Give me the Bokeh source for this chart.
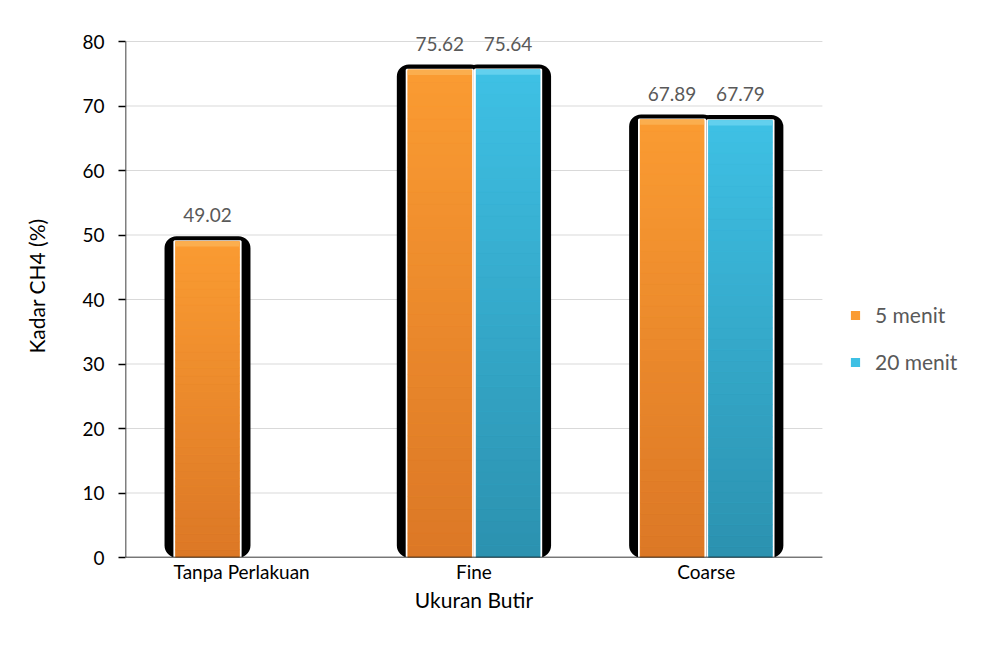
from bokeh.plotting import figure
from bokeh.models import (ColumnDataSource, Legend, LegendItem, FixedTicker, Range1d,
                          LinearAxis)
from bokeh.core.properties import value
from bokeh.embed import file_html
from bokeh.resources import INLINE

# ---- data ----
categories = ["Tanpa Perlakuan", "Fine", "Coarse"]
series_names = ["5 menit", "20 menit"]
vals_5 = [49.02, 75.62, 67.89]
vals_20 = [None, 75.64, 67.79]
y_ticks = [0, 10, 20, 30, 40, 50, 60, 70, 80]
x_title = "Ukuran Butir"
y_title = "Kadar CH4 (%)"

# ---- style ----
FONT = "Lato"
orange_top, orange_bot = (250, 155, 50), (220, 120, 38)
cyan_top, cyan_bot = (62, 192, 228), (44, 146, 176)
orange_cap, cyan_cap = "#FBAE4E", "#62D0EE"
BAR_W = 0.285
OFF = 0.147
N = 40
W, H = 984, 666
LEFT, BOTTOM = 125, 109
AXIS_TOP_PX = 41          # where the value 80 sits
TOP = 14                  # frame top (room for value labels)
CAT_PX = 232.3
ncat = len(categories)
x_end = (W - LEFT) / CAT_PX
y_max_tick = y_ticks[-1]
px_per_unit = (H - BOTTOM - AXIS_TOP_PX) / y_max_tick
y_end = y_max_tick + (AXIS_TOP_PX - TOP) / px_per_unit

p = figure(x_range=Range1d(0, x_end), y_range=Range1d(0, y_end),
           width=W, height=H, output_backend="svg", toolbar_location=None,
           min_border_left=LEFT, min_border_right=0, min_border_top=TOP,
           min_border_bottom=BOTTOM)
p.outline_line_color = None
p.background_fill_color = "white"
p.border_fill_color = "white"
p.xgrid.grid_line_color = None
p.ygrid.grid_line_color = None

def hexc(c):
    return "#%02x%02x%02x" % tuple(int(round(x)) for x in c)

# gridlines limited to the category area
p.segment(x0=[0] * len(y_ticks), x1=[ncat] * len(y_ticks), y0=y_ticks, y1=y_ticks,
          line_color="#d9d9d9", line_width=1)

specs = [
    (vals_5, -OFF, orange_top, orange_bot, orange_cap, "5 menit"),
    (vals_20, OFF, cyan_top, cyan_bot, cyan_cap, "20 menit"),
]

def series_xy(vals, off):
    xs = [i + 0.5 + off for i, v in enumerate(vals) if v is not None]
    vs = [v for v in vals if v is not None]
    return xs, vs

for vals, off, ctop, cbot, cap, name in specs:
    xs, vs = series_xy(vals, off)
    src_s = ColumnDataSource(dict(x=xs, top=[v + 0.8 for v in vs]))
    p.vbar(x="x", top="top", bottom=0, width=BAR_W + 0.085,
           source=src_s, fill_color="black", line_color=None, border_radius=12)

renderers = {}
for vals, off, ctop, cbot, cap, name in specs:
    xs, vs = series_xy(vals, off)
    src_b = ColumnDataSource(dict(x=xs, top=vs))
    base = p.vbar(x="x", top="top", bottom=0, width=BAR_W,
                  source=src_b, fill_color=hexc(ctop), line_color="white", line_width=2)
    renderers[name] = base
    gx, bots, tops, cols = [], [], [], []
    for x, v in zip(xs, vs):
        for i in range(N):
            t = i / (N - 1)
            col = tuple(cb + (ct - cb) * t for ct, cb in zip(ctop, cbot))
            gx.append(x); bots.append(v * i / N); tops.append(v * (i + 1) / N)
            cols.append(hexc(col))
    src_g = ColumnDataSource(dict(x=gx, bottom=bots, top=tops, color=cols))
    p.vbar(x="x", top="top", bottom="bottom", width=BAR_W - 0.01,
           source=src_g, fill_color="color", line_color="color", line_width=0.5)
    src_c = ColumnDataSource(dict(x=xs, top=vs, bottom=[v - 0.8 for v in vs]))
    p.vbar(x="x", top="top", bottom="bottom", width=BAR_W - 0.01,
           source=src_c, fill_color=cap, line_color=None)
    src_l = ColumnDataSource(dict(x=xs, y=vs, t=["%.2f" % v for v in vs]))
    p.text(x="x", y="y", text="t", source=src_l,
           text_align="center", text_baseline="bottom", y_offset=-19,
           text_font=value(FONT), text_font_size="19px", text_color="#595959")

# axis lines limited to the data area
p.segment(x0=[0], x1=[ncat], y0=[0], y1=[0], line_color="black", line_width=1.5)
p.segment(x0=[0], x1=[0], y0=[0], y1=[y_max_tick], line_color="black", line_width=1.5)

# y axis
p.yaxis.ticker = FixedTicker(ticks=y_ticks)
p.yaxis.axis_label = y_title
ya = p.yaxis[0]
ya.axis_label_text_font = FONT
ya.axis_label_text_font_style = "normal"
ya.axis_label_text_font_size = "21px"
ya.axis_label_text_color = "black"
ya.major_label_text_font = FONT
ya.major_label_text_color = "black"
ya.major_label_text_font_size = "19px"
ya.axis_line_color = None
ya.minor_tick_line_color = None
ya.major_tick_line_color = "black"
ya.major_tick_line_width = 1.5
ya.major_tick_in = 0
ya.major_tick_out = 7
ya.major_label_standoff = 14
ya.axis_label_standoff = 30

# x axis: category labels
centers = [i + 0.5 for i in range(ncat)]
xa = p.xaxis[0]
xa.ticker = FixedTicker(ticks=centers)
xa.major_label_overrides = {c: lab for c, lab in zip(centers, categories)}
xa.axis_line_color = None
xa.major_tick_line_color = None
xa.minor_tick_line_color = None
xa.major_label_text_font = FONT
xa.major_label_text_font_size = "19px"
xa.major_label_text_color = "black"
xa.major_label_standoff = -4

# x axis title as second axis, centred on the category area
mid = ncat / 2
xt = LinearAxis(ticker=FixedTicker(ticks=[mid]), major_label_overrides={mid: x_title},
                axis_line_color=None, major_tick_line_color=None, minor_tick_line_color=None,
                major_label_text_font=FONT, major_label_text_font_size="21px",
                major_label_text_color="black", major_label_standoff=-5)
p.add_layout(xt, "below")

legend = Legend(items=[LegendItem(label=n, renderers=[renderers[n]]) for n in series_names],
                location=(723, 183), orientation="vertical",
                label_text_font=FONT, label_text_font_size="21px", label_text_color="#595959",
                glyph_width=14, glyph_height=14, label_height=23, spacing=22, label_standoff=13,
                background_fill_alpha=0, border_line_color=None, margin=0, padding=0)
p.add_layout(legend, "center")

open("out.html", "w").write(file_html(p, INLINE))
